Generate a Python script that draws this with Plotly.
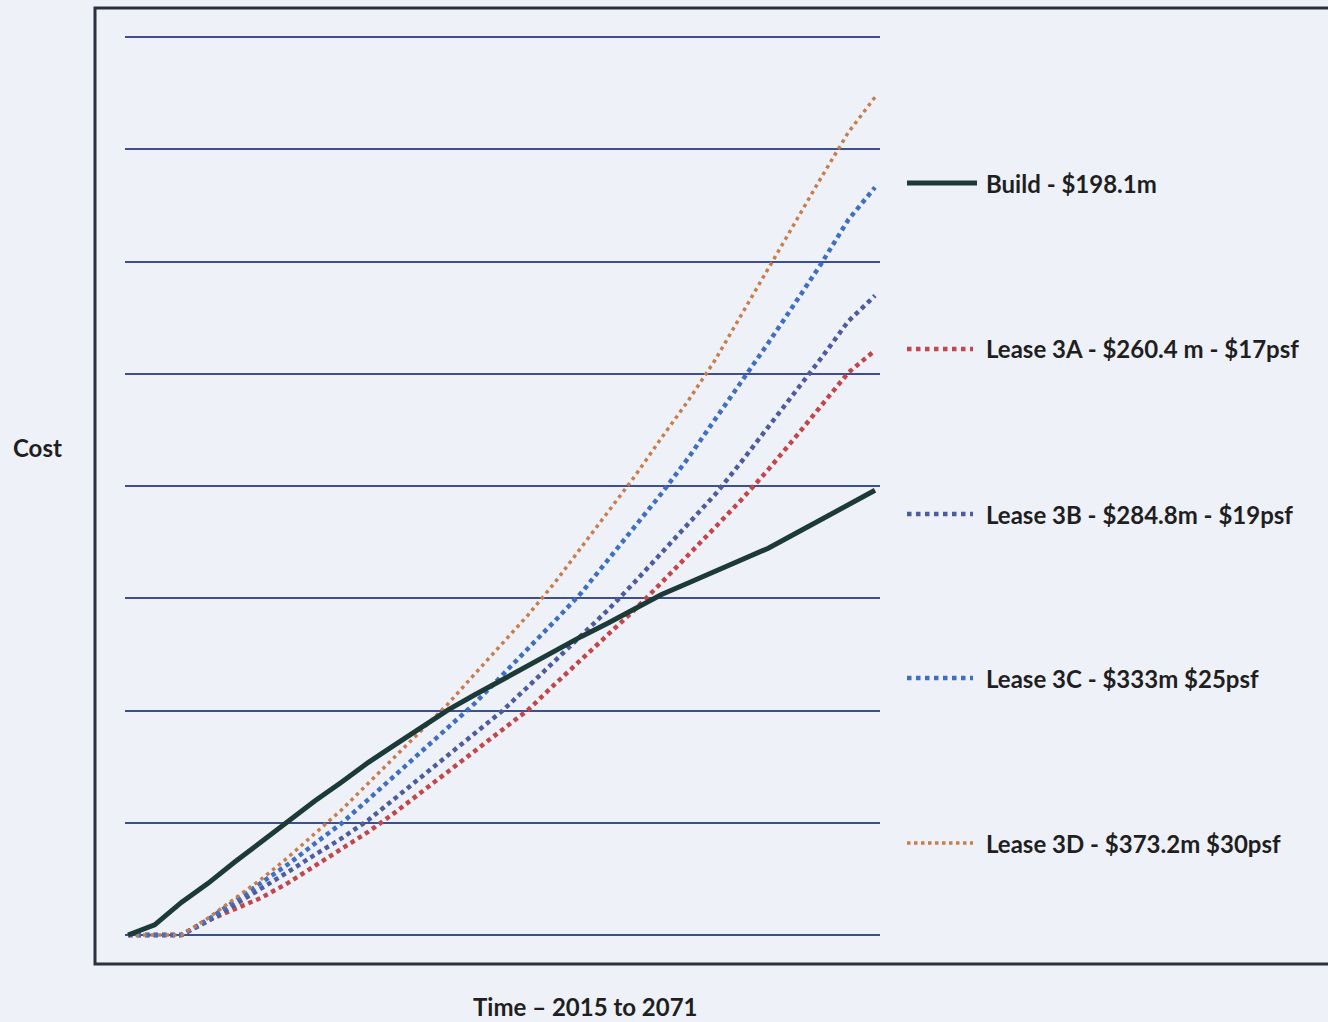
import plotly.graph_objects as go

# ---- data (cost in $m, cumulative) ----
years = [2015, 2017, 2019, 2021, 2023, 2025, 2027, 2029, 2031, 2033,
         2035, 2037, 2039, 2041, 2043, 2045, 2047, 2049, 2051, 2053,
         2055, 2057, 2059, 2061, 2063, 2065, 2067, 2069, 2071]

build = [0, 4.5, 14.5, 23, 32.5, 41.7, 51, 59.7, 68, 76.8,
         84.7, 92.5, 100.3, 107, 113.6, 120, 127, 133, 139, 145.6,
         151.7, 156.8, 162, 167, 172.3, 178.7, 185.3, 191.8, 198.1]

lease_3a = [0, 0, 0, 6.5, 11.6, 16.6, 23.2, 30.8, 38.2, 45.9,
            54.5, 63.6, 72.8, 82, 91.2, 100.3, 111.7, 122.8, 133.8, 145,
            157, 169, 181.5, 194, 207.3, 221.5, 236, 250.5, 260.4]

lease_3b = [0, 0, 0, 6.2, 13.5, 20.5, 28.1, 35.7, 43, 51.1,
            60.9, 70.5, 80, 89.9, 99.5, 110.7, 122.2, 133.6, 144.9, 157.3,
            170.4, 183, 196.1, 210.9, 226.2, 241.4, 257.2, 273.4, 284.8]

lease_3c = [0, 0, 0, 6.9, 15, 22.8, 31.5, 40.7, 49.7, 60.3,
            71, 81.5, 92, 103.2, 115.4, 127.5, 139.9, 152.5, 167, 181.8,
            196.7, 212.5, 229.4, 246.3, 263.7, 281.4, 299.3, 318.6, 333]

lease_3d = [0, 0, 0, 7.5, 16.4, 24.9, 34.6, 45, 55.7, 67.5,
            79.4, 91, 103, 116.3, 129.5, 142.6, 157, 172.7, 188.2, 204.4,
            221.5, 238, 256, 276.5, 296.6, 317, 337.7, 357.5, 373.2]

series_names = ["Build - $198.1m",
                "Lease 3A - $260.4 m - $17psf",
                "Lease 3B - $284.8m - $19psf",
                "Lease 3C - $333m $25psf",
                "Lease 3D - $373.2m $30psf"]

# ---- styling ----
W, H = 1328, 1022
PLOT_L, PLOT_R, PLOT_T, PLOT_B = 125, 880, 30, 942
BG = "#eef1f7"
GRID = "#3b4f92"
TEXT = "#1f1f22"
FONT = "Lato"
FONT_SIZE = 24

series = [
    dict(y=build, color="#1c3b38", width=5, dash="solid"),
    dict(y=lease_3a, color="#c2474a", width=4.5, dash="4.5px,4px"),
    dict(y=lease_3b, color="#4d5c9e", width=4.5, dash="4.5px,4px"),
    dict(y=lease_3c, color="#3f6fc2", width=4.5, dash="4.5px,4px"),
    dict(y=lease_3d, color="#c87d4c", width=3.5, dash="3.5px,4px"),
]


def px_x(px):
    return (px - PLOT_L) / (PLOT_R - PLOT_L)


def px_y(py):
    return (PLOT_B - py) / (PLOT_B - PLOT_T)


fig = go.Figure()

# dotted lease curves first, build line on top
for name, s in list(zip(series_names, series))[1:] + [(series_names[0], series[0])]:
    fig.add_trace(go.Scatter(
        x=years, y=s["y"], mode="lines", name=name, showlegend=False,
        line=dict(color=s["color"], width=s["width"], dash=s["dash"]),
    ))

# legend drawn beside the plot: sample line + label per series
legend_rows = [183, 349, 514, 678, 843]
shapes = []
annotations = []
for name, s, row in zip(series_names, series, legend_rows):
    shapes.append(dict(
        type="line", xref="paper", yref="paper",
        x0=px_x(907), x1=px_x(977 if s["dash"] == "solid" else 973),
        y0=px_y(row), y1=px_y(row),
        line=dict(color=s["color"], width=s["width"],
                  dash="solid" if s["dash"] == "solid" else "dot"),
    ))
    annotations.append(dict(
        text=name, xref="paper", yref="paper", x=px_x(984), y=px_y(row),
        xanchor="left", yanchor="middle", showarrow=False,
        font=dict(family=FONT, size=FONT_SIZE, color=TEXT, weight="bold"),
    ))

# chart frame
shapes.append(dict(
    type="rect", xref="paper", yref="paper",
    x0=px_x(95), x1=px_x(1345), y0=px_y(964), y1=px_y(8),
    line=dict(color="#2c3140", width=3), layer="below",
))

annotations.append(dict(
    text="Cost", xref="paper", yref="paper", x=px_x(37), y=px_y(447),
    xanchor="center", yanchor="middle", showarrow=False,
    font=dict(family=FONT, size=FONT_SIZE, color=TEXT, weight="bold"),
))
annotations.append(dict(
    text="Time \u2013 2015 to 2071", xref="paper", yref="paper",
    x=px_x(585), y=px_y(1006), xanchor="center", yanchor="middle",
    showarrow=False,
    font=dict(family=FONT, size=FONT_SIZE, color=TEXT, weight="bold"),
))

x_per_px = 56 / 747.0
y_per_px = 400 / 898.0
fig.update_layout(
    width=W, height=H,
    margin=dict(l=PLOT_L, r=W - PLOT_R, t=PLOT_T, b=H - PLOT_B),
    paper_bgcolor=BG, plot_bgcolor=BG,
    shapes=shapes, annotations=annotations,
    xaxis=dict(range=[2015 - 3 * x_per_px, 2071 + 5 * x_per_px],
               showgrid=False, zeroline=False, showticklabels=False,
               ticks="", showline=False),
    yaxis=dict(range=[0 - (PLOT_B - 935) * y_per_px, 400 + (37 - PLOT_T) * y_per_px],
               tick0=0, dtick=50, showgrid=True, gridcolor=GRID, gridwidth=2,
               zeroline=False, showticklabels=False, ticks="", showline=False),
)

fig.write_html("out.html")
